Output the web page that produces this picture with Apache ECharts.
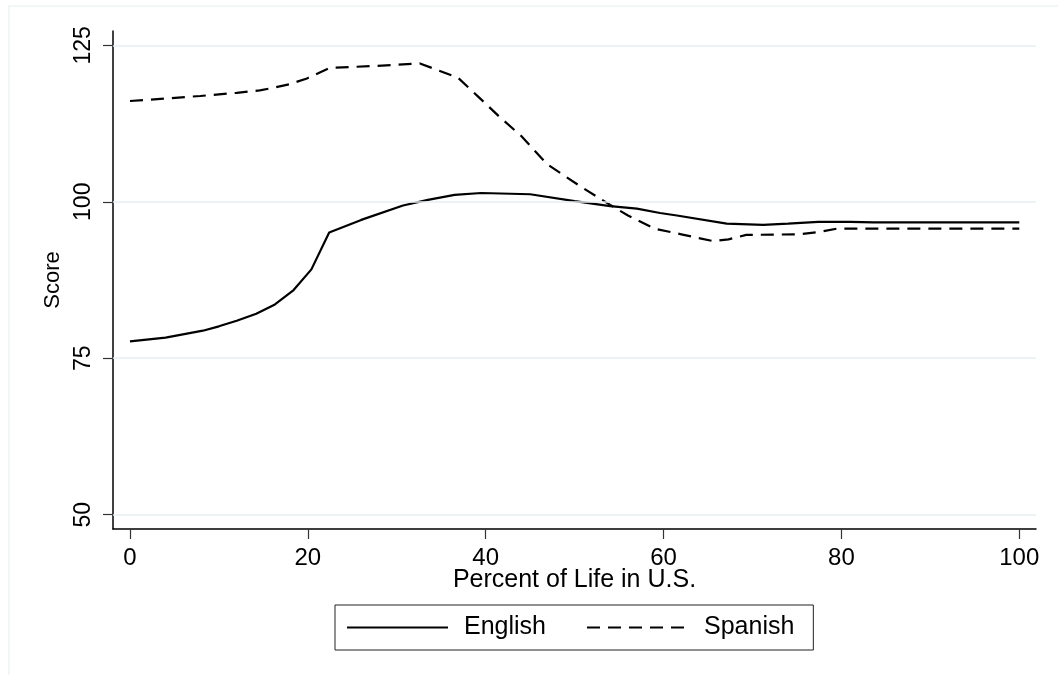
<!DOCTYPE html>
<html>
<head>
<meta charset="utf-8">
<script src="https://cdn.jsdelivr.net/npm/echarts@6/dist/echarts.min.js"></script>
<style>html,body{margin:0;padding:0;background:#fff;}#c{width:1058px;height:675px;}</style>
</head>
<body>
<div id="c"></div>
<script>
// Data (x = percent of life in U.S., y = score)
const englishX = [0, 4, 8.2, 10, 12, 14.2, 16.3, 18.4, 20.4, 22.4, 26, 30.7, 33.5, 36.5, 39.5, 45, 50, 54, 57, 59.6, 61.5, 67.1, 71.2, 74, 77.4, 81, 83.6, 100];
const englishY = [77.7, 78.3, 79.4, 80.1, 81.0, 82.1, 83.6, 85.9, 89.2, 95.1, 97.1, 99.4, 100.3, 101.1, 101.4, 101.2, 100.1, 99.3, 98.9, 98.2, 97.8, 96.5, 96.3, 96.5, 96.8, 96.8, 96.7, 96.7];
const spanishX = [0, 4.1, 7.9, 12, 14.6, 16.1, 18, 19.9, 22.5, 27.7, 32.6, 36.9, 39, 41.6, 44, 46.9, 50.6, 54, 56, 59, 62, 65.6, 67.3, 69.3, 75.3, 77.6, 79.5, 100];
const spanishY = [116.1, 116.5, 116.9, 117.4, 117.8, 118.2, 118.8, 119.7, 121.4, 121.7, 122.1, 119.8, 117.0, 113.5, 110.5, 106.0, 102.5, 99.5, 97.8, 95.7, 94.8, 93.7, 94.0, 94.7, 94.8, 95.2, 95.7, 95.7];
const xTicks = [0, 20, 40, 60, 80, 100];
const yTicks = [50, 75, 100, 125];
const seriesNames = ['English', 'Spanish'];
const xTitle = 'Percent of Life in U.S.';
const yTitle = 'Score';

const pairs = (xs, ys) => xs.map((x, i) => [x, ys[i]]);

const chart = echarts.init(document.getElementById('c'), null, {renderer: 'canvas'});
const font = 'Liberation Sans, Arial, Helvetica, sans-serif';
chart.setOption({
  animation: false,
  backgroundColor: '#ffffff',
  graphic: [{
    type: 'rect', silent: true, z: -10,
    shape: {x: 9, y: 6, width: 1100, height: 800},
    style: {fill: '#ffffff', stroke: '#eef3f4', lineWidth: 1.5}
  }],
  grid: {left: 113, right: 22, top: 31, bottom: 146, containLabel: false},
  legend: {
    show: true,
    data: seriesNames,
    left: 335, top: 605,
    orient: 'horizontal',
    itemWidth: 101, itemHeight: 20,
    itemGap: 40,
    padding: [10, 19, 10, 11],
    borderColor: '#222', borderWidth: 1, borderRadius: 0,
    backgroundColor: '#fff',
    itemStyle: {color: 'rgba(0,0,0,0)', borderWidth: 0, opacity: 0},
    textStyle: {fontFamily: font, fontSize: 25, color: '#000', padding: [0, 0, 0, 11]}
  },
  xAxis: {
    type: 'value', min: -1.91, max: 101.88,
    name: xTitle, nameLocation: 'middle', nameGap: 39, nameMoveOverlap: false,
    nameTextStyle: {fontFamily: font, fontSize: 25, color: '#000'},
    axisLine: {show: true, onZero: false, lineStyle: {color: '#000', width: 1.5}},
    axisTick: {show: true, length: 10, customValues: xTicks, lineStyle: {color: '#333', width: 1.2}},
    axisLabel: {customValues: xTicks, fontFamily: font, fontSize: 24, color: '#000', margin: 17},
    splitLine: {show: false}
  },
  yAxis: {
    type: 'value', min: 47.72, max: 127.28,
    name: yTitle, nameLocation: 'middle', nameGap: 49, nameMoveOverlap: false,
    nameTextStyle: {fontFamily: font, fontSize: 22, color: '#000'},
    axisLine: {show: true, onZero: false, lineStyle: {color: '#000', width: 1.5}},
    axisTick: {show: true, length: 10, customValues: yTicks, lineStyle: {color: '#333', width: 1.2}},
    axisLabel: {customValues: yTicks, rotate: 90, fontFamily: font, fontSize: 23, color: '#000', margin: 18},
    splitLine: {show: false}
  },
  series: [
    {
      name: seriesNames[0], type: 'line', data: pairs(englishX, englishY),
      showSymbol: false, symbol: 'none', smooth: false,
      lineStyle: {color: '#000', width: 2.2, type: 'solid'},
      itemStyle: {color: '#000'},
      z: 3,
      markLine: {
        silent: true, symbol: ['none', 'none'], label: {show: false},
        lineStyle: {color: '#e7eff1', width: 1.5, type: 'solid'},
        emphasis: {disabled: true},
        data: yTicks.map(v => ({yAxis: v}))
      }
    },
    {
      name: seriesNames[1], type: 'line', data: pairs(spanishX, spanishY),
      showSymbol: false, symbol: 'none', smooth: false,
      lineStyle: {color: '#000', width: 2.2, type: [13, 8]},
      itemStyle: {color: '#000'},
      z: 3
    }
  ]
});
</script>
</body>
</html>
